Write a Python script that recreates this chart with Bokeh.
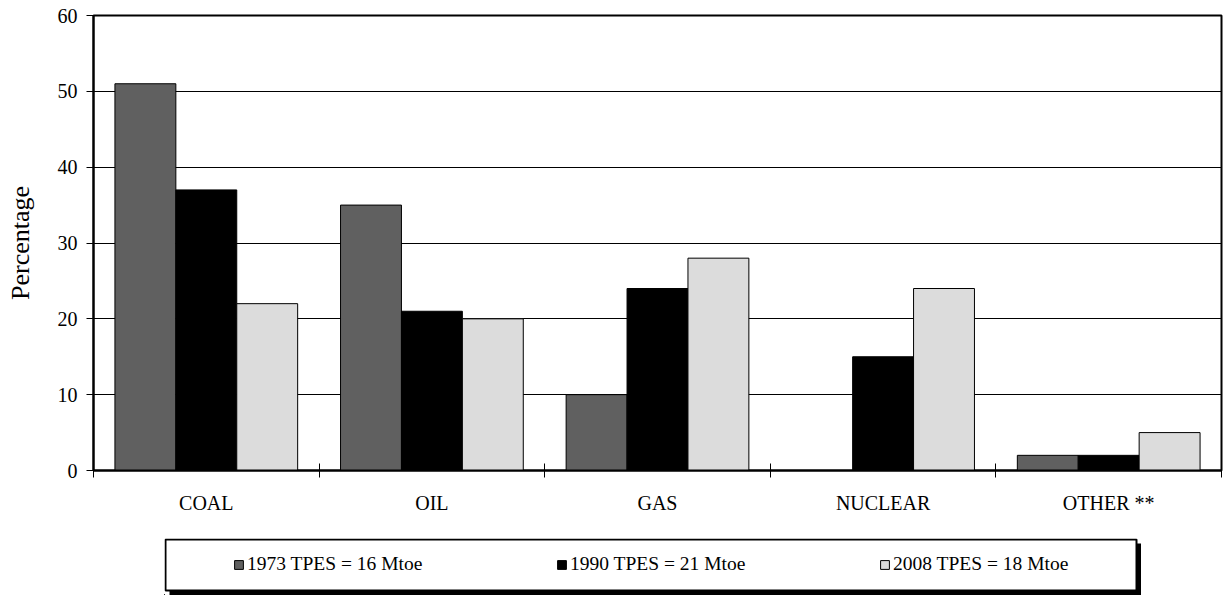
from bokeh.plotting import figure
from bokeh.models import (ColumnDataSource, Range1d, FixedTicker, Legend, LegendItem)
from bokeh.transform import dodge
from bokeh.layouts import column
from bokeh.embed import file_html
from bokeh.resources import INLINE

# ---- data ----
categories = ["COAL", "OIL", "GAS", "NUCLEAR", "OTHER **"]
share_1973 = [51, 35, 10, 0, 2]
share_1990 = [37, 21, 24, 15, 2]
share_2008 = [22, 20, 28, 24, 5]
series_labels = ["1973 TPES = 16 Mtoe", "1990 TPES = 21 Mtoe", "2008 TPES = 18 Mtoe"]
y_ticks = [0, 10, 20, 30, 40, 50, 60]

colors = ["#606060", "#000000", "#dcdcdc"]
FONT = "Liberation Serif"

centers = [i + 0.5 for i in range(len(categories))]
src = ColumnDataSource(dict(x=centers, y1973=share_1973, y1990=share_1990, y2008=share_2008))

p = figure(width=1223, height=530, x_range=Range1d(0, len(categories)), y_range=Range1d(0, 60),
           output_backend="svg", toolbar_location=None,
           min_border_left=93, min_border_right=2, min_border_top=15, min_border_bottom=60)
p.frame_align = False
p.background_fill_color = "white"
p.border_fill_color = "white"
p.outline_line_color = "black"
p.outline_line_width = 2

bw = 0.27
for key, off, col in zip(["y1973", "y1990", "y2008"], [-bw, 0, bw], colors):
    p.vbar(x=dodge("x", off, range=p.x_range), top=key, width=bw, source=src,
           fill_color=col, line_color="black", line_width=1)

# x axis: labels at category centres, tick marks at boundaries (minor ticks)
p.xaxis.ticker = FixedTicker(ticks=centers, minor_ticks=list(range(len(categories) + 1)))
p.xaxis.major_label_overrides = {c: name for c, name in zip(centers, categories)}
p.xaxis.major_tick_in = 0
p.xaxis.major_tick_out = 0
p.xaxis.minor_tick_in = 7
p.xaxis.minor_tick_out = 7
p.xaxis.minor_tick_line_color = "black"
p.xaxis.axis_line_color = "black"
p.xaxis.axis_line_width = 2
p.xaxis.major_label_standoff = 14
p.xaxis.major_label_text_font = FONT
p.xaxis.major_label_text_font_size = "20px"
p.xaxis.major_label_text_color = "black"

# y axis
p.yaxis.ticker = FixedTicker(ticks=y_ticks)
p.yaxis.minor_tick_line_color = None
p.yaxis.major_tick_in = 0
p.yaxis.major_tick_out = 7
p.yaxis.major_tick_line_color = "black"
p.yaxis.axis_line_color = "black"
p.yaxis.axis_line_width = 2
p.yaxis.major_label_standoff = 9
p.yaxis.major_label_text_font = FONT
p.yaxis.major_label_text_font_size = "20px"
p.yaxis.major_label_text_color = "black"
p.yaxis.axis_label = "Percentage"
p.yaxis.axis_label_text_font = FONT
p.yaxis.axis_label_text_font_style = "normal"
p.yaxis.axis_label_text_font_size = "26px"
p.yaxis.axis_label_text_color = "black"
p.yaxis.axis_label_standoff = 20

p.xgrid.visible = False
p.ygrid.ticker = FixedTicker(ticks=y_ticks)
p.ygrid.grid_line_color = "black"
p.ygrid.grid_line_width = 1

# ---- legend panel (boxed with drop shadow) ----
BOX_W, BOX_H, SH = 973, 53, 4
leg = figure(width=BOX_W + SH, height=BOX_H + SH, x_range=Range1d(0, BOX_W + SH),
             y_range=Range1d(0, BOX_H + SH), x_axis_type=None, y_axis_type=None,
             output_backend="svg", toolbar_location=None, min_border=0)
leg.frame_align = False
leg.outline_line_color = None
leg.background_fill_color = "white"
leg.border_fill_color = "white"
leg.margin = (8, 0, 0, 164)
leg.quad(left=[SH + 1], right=[BOX_W + SH], bottom=[0], top=[BOX_H - 1],
         fill_color="black", line_color=None)
leg.quad(left=[1], right=[BOX_W - 1], bottom=[SH + 1], top=[BOX_H + SH - 1],
         fill_color="white", line_color="black", line_width=2)

items = []
for lab, col in zip(series_labels, colors):
    # off-canvas sample renderer used only for the legend swatch
    r = leg.vbar(x=[-1000], top=[1], width=1, fill_color=col, line_color="black", line_width=1)
    items.append(LegendItem(label=lab, renderers=[r]))

legend = Legend(items=items, orientation="horizontal", location=(69, 20),
                padding=0, margin=0, spacing=133, glyph_width=11, glyph_height=11,
                label_standoff=3, label_width=176,
                label_text_font=FONT, label_text_font_size="19.5px", label_text_color="black",
                border_line_color=None, background_fill_alpha=0)
leg.add_layout(legend)

layout = column(p, leg, spacing=0)

with open("out.html", "w") as f:
    f.write(file_html(layout, INLINE))
